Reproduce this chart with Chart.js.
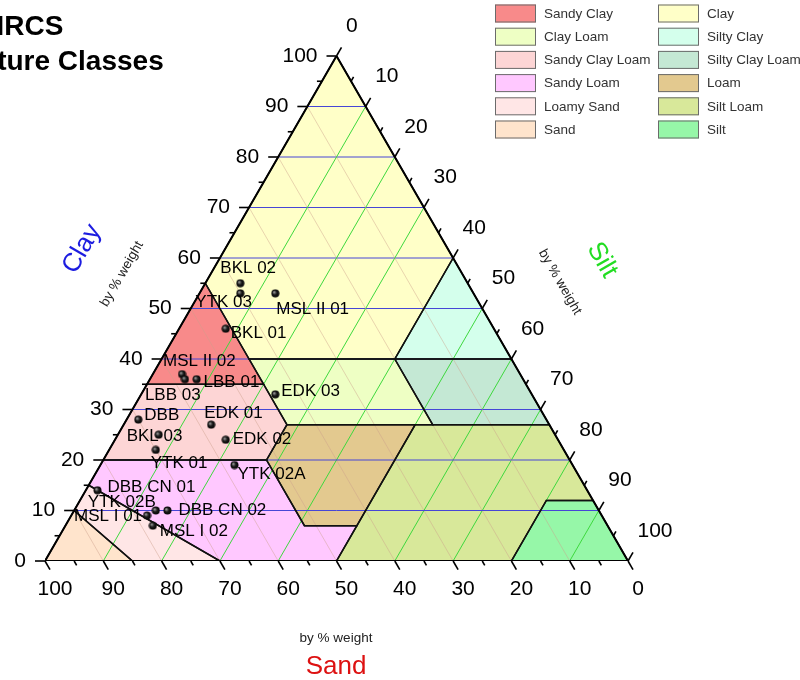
<!DOCTYPE html>
<html>
<head>
<meta charset="utf-8">
<title>NRCS Texture Classes</title>
<script src="https://cdn.jsdelivr.net/npm/chart.js@4.4.0/dist/chart.umd.min.js"></script>
<style>
  body { margin: 0; background: #fff; }
  canvas { display: block; }
</style>
</head>
<body>
<canvas id="soilChart" width="800" height="680"></canvas>
<script>
// samples, composition in % by weight
var sampleNames = ['BKL 02', 'YTK 03', 'MSL II 01', 'BKL 01', 'MSL II 02', 'LBB 03', 'LBB 01', 'EDK 03',
  'DBB', 'EDK 01', 'BKL 03', 'EDK 02', 'YTK 01', 'YTK 02A', 'DBB CN 01', 'YTK 02B', 'DBB CN 02', 'MSL I 01', 'MSL I 02'];
var sampleSand = [39, 40, 34, 46, 58, 58, 56, 44, 70, 58, 68, 57, 70, 58, 84, 76, 74, 78, 78];
var sampleSilt = [6, 7, 13, 8, 5, 6, 8, 23, 2, 15, 7, 19, 8, 23, 2, 14, 16, 13, 15];
var sampleClay = [55, 53, 53, 46, 37, 36, 36, 33, 28, 27, 25, 24, 22, 19, 14, 10, 10, 9, 7];

// texture classes, outline vertices as [sand, silt, clay]
var classNames = ['Sandy Clay', 'Clay Loam', 'Sandy Clay Loam', 'Sandy Loam', 'Loamy Sand', 'Sand',
  'Clay', 'Silty Clay', 'Silty Clay Loam', 'Loam', 'Silt Loam', 'Silt'];
var classColors = ['#f88a8a', '#eeffc4', '#fdd5d5', '#ffc8ff', '#ffe6e6', '#ffe4cc',
  '#ffffc8', '#d4ffec', '#c4e8d4', '#e3c98f', '#d8e89a', '#96f7a8'];
var classShapes = [
  [[45, 0, 55], [65, 0, 35], [45, 20, 35]],
  [[20, 40, 40], [20, 53, 27], [45, 28, 27], [45, 15, 40]],
  [[45, 20, 35], [65, 0, 35], [80, 0, 20], [52, 28, 20], [45, 28, 27]],
  [[80, 0, 20], [52, 28, 20], [52, 41, 7], [43, 50, 7], [50, 50, 0], [70, 30, 0], [85, 0, 15]],
  [[85, 0, 15], [70, 30, 0], [85, 15, 0], [90, 0, 10]],
  [[90, 0, 10], [85, 15, 0], [100, 0, 0]],
  [[0, 0, 100], [0, 40, 60], [20, 40, 40], [45, 15, 40], [45, 0, 55]],
  [[0, 40, 60], [0, 60, 40], [20, 40, 40]],
  [[0, 60, 40], [0, 73, 27], [20, 53, 27], [20, 40, 40]],
  [[45, 28, 27], [23, 50, 27], [43, 50, 7], [52, 41, 7], [52, 28, 20]],
  [[23, 50, 27], [0, 73, 27], [0, 88, 12], [8, 80, 12], [20, 80, 0], [50, 50, 0]],
  [[0, 88, 12], [0, 100, 0], [20, 80, 0], [8, 80, 12]]
];

var majorTicks = [0, 10, 20, 30, 40, 50, 60, 70, 80, 90, 100];
var minorTicks = [5, 15, 25, 35, 45, 55, 65, 75, 85, 95];
var gridValues = [10, 20, 30, 40, 50, 60, 70, 80, 90];

// label placement next to each dot (left edge, vertical middle)
var labelOffsets = [[-20, -15], [-45, 9], [1, 16], [5, 5], [-19, -13], [-40, 16], [7, 3], [6, -3],
  [6, -4], [-7, -11], [-32, 2], [7, 0], [-5, 13], [3, 9], [10, -3], [-68, -8], [11, 0], [-73, 1], [7, 6]];

var FONT = '"Liberation Sans", Arial, sans-serif';

// ternary -> cartesian (x along the base, y = clay)
function tern(sand, silt, clay) {
  return { x: silt + clay / 2, y: clay };
}
function ring(verts) {
  var pts = verts.map(function (v) { return tern(v[0], v[1], v[2]); });
  pts.push(pts[0]);
  return pts;
}

var datasets = [];

// class fills
classShapes.forEach(function (shape, i) {
  datasets.push({
    data: ring(shape), fill: 'shape', backgroundColor: classColors[i],
    borderColor: 'transparent', borderWidth: 0, pointRadius: 0, order: 10
  });
});

// grid: clay (blue), silt (green), sand (tan)
gridValues.forEach(function (v) {
  datasets.push({ data: [tern(100 - v, 0, v), tern(0, 100 - v, v)], borderColor: '#4646d6',
    borderWidth: 1, pointRadius: 0, fill: false, order: 9 });
  datasets.push({ data: [tern(100 - v, v, 0), tern(0, v, 100 - v)], borderColor: '#3ed83e',
    borderWidth: 1, pointRadius: 0, fill: false, order: 9 });
  datasets.push({ data: [tern(v, 100 - v, 0), tern(v, 0, 100 - v)], borderColor: 'rgba(205,160,140,0.45)',
    borderWidth: 1, pointRadius: 0, fill: false, order: 9 });
});

// class outlines
classShapes.forEach(function (shape) {
  datasets.push({ data: ring(shape), fill: false, borderColor: '#111', borderWidth: 1.5,
    pointRadius: 0, order: 8 });
});

// outer triangle
datasets.push({ data: ring([[100, 0, 0], [0, 100, 0], [0, 0, 100]]), fill: false,
  borderColor: '#000', borderWidth: 2, pointRadius: 0, order: 7 });

// shaded ball marker
var ball = document.createElement('canvas');
ball.width = 9; ball.height = 9;
(function () {
  var g = ball.getContext('2d');
  var grad = g.createRadialGradient(3.2, 3.2, 0.3, 4.5, 4.5, 4.5);
  grad.addColorStop(0, '#9a9a9a');
  grad.addColorStop(0.45, '#1a1a1a');
  grad.addColorStop(1, '#000');
  g.fillStyle = grad;
  g.beginPath();
  g.arc(4.5, 4.5, 4, 0, Math.PI * 2);
  g.fill();
})();

datasets.push({
  data: sampleNames.map(function (n, i) { return tern(sampleSand[i], sampleSilt[i], sampleClay[i]); }),
  showLine: false, pointStyle: ball, pointRadius: 4.5, order: 1
});

function toPx(chart, p) {
  var t = tern(p[0], p[1], p[2]);
  return { x: chart.scales.x.getPixelForValue(t.x), y: chart.scales.y.getPixelForValue(t.y) };
}
function unit(a, b) {
  var dx = b.x - a.x, dy = b.y - a.y, l = Math.hypot(dx, dy);
  return { x: dx / l, y: dy / l };
}
function rotText(ctx, text, x, y, ang, font, color) {
  ctx.save();
  ctx.translate(x, y);
  ctx.rotate(ang);
  ctx.font = font;
  ctx.fillStyle = color;
  ctx.textAlign = 'center';
  ctx.textBaseline = 'middle';
  ctx.fillText(text, 0, 0);
  ctx.restore();
}

var ternaryDecor = {
  id: 'ternaryDecor',
  afterDatasetsDraw: function (chart) {
    var ctx = chart.ctx;
    var meta = chart.getDatasetMeta(datasets.length - 1);
    ctx.save();
    ctx.font = '17px ' + FONT;
    ctx.fillStyle = '#000';
    ctx.textAlign = 'left';
    ctx.textBaseline = 'middle';
    meta.data.forEach(function (pt, i) {
      ctx.fillText(sampleNames[i], pt.x + labelOffsets[i][0], pt.y + labelOffsets[i][1]);
    });
    ctx.restore();
  },
  afterDraw: function (chart) {
    var ctx = chart.ctx;
    var axes = [
      { at: function (v) { return [100 - v, 0, v]; }, dir: unit(toPx(chart, [0, 100, 0]), toPx(chart, [100, 0, 0])),
        align: 'right', lx: -19, ly: 0 },
      { at: function (v) { return [v, 100 - v, 0]; }, dir: unit(toPx(chart, [0, 0, 100]), toPx(chart, [0, 100, 0])),
        align: 'center', lx: 10, ly: 28 },
      { at: function (v) { return [0, v, 100 - v]; }, dir: unit(toPx(chart, [100, 0, 0]), toPx(chart, [0, 0, 100])),
        align: 'left', lx: 9.5, ly: -30 }
    ];
    ctx.save();
    ctx.strokeStyle = '#000';
    ctx.lineWidth = 1.6;
    ctx.fillStyle = '#000';
    ctx.font = '21px ' + FONT;
    ctx.textBaseline = 'middle';
    axes.forEach(function (ax) {
      majorTicks.concat(minorTicks).forEach(function (v) {
        var p = toPx(chart, ax.at(v));
        var len = majorTicks.indexOf(v) >= 0 ? 10 : 5;
        ctx.beginPath();
        ctx.moveTo(p.x, p.y);
        ctx.lineTo(p.x + ax.dir.x * len, p.y + ax.dir.y * len);
        ctx.stroke();
      });
      ctx.textAlign = ax.align;
      majorTicks.forEach(function (v) {
        var p = toPx(chart, ax.at(v));
        ctx.fillText(String(v), p.x + ax.lx, p.y + ax.ly);
      });
    });
    ctx.restore();

    // axis titles
    var small = '13.5px ' + FONT, big = '26px ' + FONT;
    rotText(ctx, 'Clay', 82, 249, -Math.PI / 3, big, '#1c1ce0');
    rotText(ctx, 'by % weight', 122, 274, -Math.PI / 3, small, '#222');
    rotText(ctx, 'Silt', 602, 260, Math.PI / 3, big, '#22dd22');
    rotText(ctx, 'by % weight', 560, 282, Math.PI / 3, small, '#222');
    rotText(ctx, 'by % weight', 336, 638, 0, small, '#222');
    rotText(ctx, 'Sand', 336, 667, 0, big, '#dd1111');

    // title
    ctx.save();
    ctx.fillStyle = '#000';
    ctx.font = 'bold 28px ' + FONT;
    ctx.textAlign = 'left';
    ctx.textBaseline = 'alphabetic';
    ctx.fillText('NRCS', -16, 35);
    ctx.fillText('Texture Classes', -49, 70);
    ctx.restore();

    // legend, two columns of six
    ctx.save();
    ctx.font = '13.5px ' + FONT;
    ctx.textBaseline = 'middle';
    ctx.textAlign = 'left';
    classNames.forEach(function (name, i) {
      var col = Math.floor(i / 6), row = i % 6;
      var sx = col ? 658 : 495, sy = 4.5 + row * 23.2;
      ctx.fillStyle = classColors[i];
      ctx.fillRect(sx, sy, 41, 18);
      ctx.strokeStyle = '#6b6b6b';
      ctx.lineWidth = 1;
      ctx.strokeRect(sx + 0.5, sy + 0.5, 40, 17);
      ctx.fillStyle = '#333';
      ctx.fillText(name, sx + 49, sy + 9.5);
    });
    ctx.restore();
  }
};

new Chart(document.getElementById('soilChart').getContext('2d'), {
  type: 'line',
  data: { datasets: datasets },
  options: {
    responsive: false,
    animation: false,
    devicePixelRatio: 1,
    layout: { padding: { left: 45, right: 172, top: 56, bottom: 119 } },
    scales: {
      x: { type: 'linear', min: 0, max: 100, display: false },
      y: { type: 'linear', min: 0, max: 100, display: false }
    },
    elements: { line: { tension: 0 } },
    plugins: { legend: { display: false }, tooltip: { enabled: false } }
  },
  plugins: [ternaryDecor]
});
</script>
</body>
</html>
